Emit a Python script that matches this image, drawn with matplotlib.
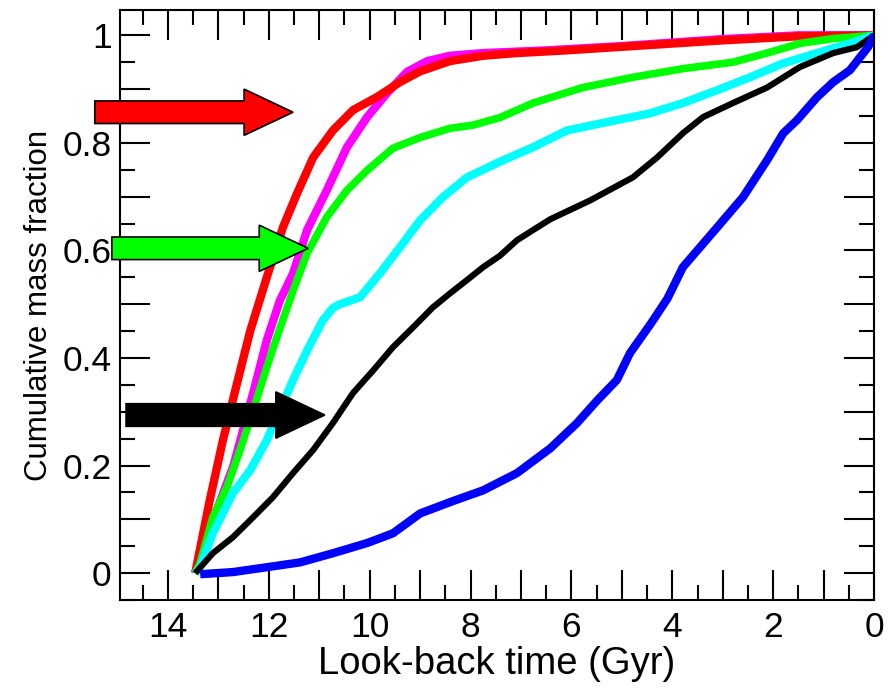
import matplotlib
matplotlib.use("Agg")
import matplotlib.pyplot as plt
from matplotlib.patches import FancyArrow
from matplotlib.ticker import MultipleLocator, FuncFormatter

plt.rcParams["font.family"] = ["Liberation Sans", "DejaVu Sans"]

# look-back time (Gyr) and cumulative mass fraction
red_t = [13.46, 13.17, 12.91, 12.63, 12.37, 12.04, 11.72, 11.44, 11.12, 10.73,
         10.33, 9.86, 9.40, 9.0, 8.41, 7.75, 7.08, 6.1, 5.10, 3.11, 1.53, 0.0]
red_f = [0.0, 0.136, 0.247, 0.353, 0.45, 0.55, 0.643, 0.706, 0.773, 0.823,
         0.861, 0.885, 0.913, 0.933, 0.952, 0.962, 0.967, 0.972, 0.978, 0.99, 0.998, 1.0]

magenta_t = [13.46, 13.1, 12.7, 12.31, 12.04, 11.78, 11.52, 11.24, 10.85, 10.45,
             10.05, 9.66, 9.26, 8.86, 8.41, 7.75, 6.5, 5.0, 3.0, 1.5, 0.0]
magenta_f = [0.0, 0.1, 0.2, 0.335, 0.433, 0.507, 0.557, 0.638, 0.712, 0.792,
             0.848, 0.892, 0.932, 0.952, 0.962, 0.967, 0.972, 0.98, 0.993, 1.0, 1.0]

green_t = [13.46, 13.36, 13.11, 12.83, 12.57, 12.31, 12.04, 11.78, 11.52, 11.24,
           10.85, 10.45, 10.05, 9.54, 9.0, 8.41, 7.95, 7.42, 6.76, 6.42,
           5.77, 4.78, 3.79, 2.80, 2.12, 1.47, 0.81, 0.0]
green_f = [0.0, 0.019, 0.104, 0.16, 0.229, 0.303, 0.383, 0.455, 0.525, 0.595,
           0.662, 0.712, 0.749, 0.79, 0.81, 0.827, 0.833, 0.847, 0.874, 0.884,
           0.903, 0.922, 0.938, 0.95, 0.967, 0.985, 0.994, 1.0]

cyan_t = [13.46, 13.36, 13.11, 12.71, 12.37, 12.04, 11.78, 11.52, 11.24, 10.93,
          10.73, 10.59, 10.19, 9.80, 9.40, 9.0, 8.55, 8.07, 7.75, 7.42,
          6.76, 6.09, 5.43, 4.44, 3.79, 3.11, 2.46, 1.80, 1.13, 0.48, 0.0]
cyan_f = [0.0, 0.011, 0.074, 0.149, 0.191, 0.247, 0.303, 0.359, 0.414, 0.47,
          0.493, 0.50, 0.513, 0.557, 0.606, 0.656, 0.699, 0.736, 0.75, 0.765,
          0.792, 0.823, 0.836, 0.855, 0.874, 0.898, 0.922, 0.948, 0.967, 0.985, 1.0]

black_t = [13.46, 13.11, 12.71, 12.31, 11.92, 11.52, 11.12, 10.73, 10.33, 9.93,
           9.54, 9.14, 8.75, 8.41, 8.07, 7.75, 7.42, 7.08, 6.76, 6.42,
           5.63, 4.78, 4.30, 3.79, 3.39, 2.80, 2.12, 1.47, 0.81, 0.34, 0.0]
black_f = [0.0, 0.037, 0.067, 0.104, 0.141, 0.186, 0.229, 0.279, 0.335, 0.377,
           0.42, 0.457, 0.494, 0.52, 0.545, 0.569, 0.59, 0.619, 0.638, 0.658,
           0.693, 0.736, 0.773, 0.818, 0.848, 0.874, 0.903, 0.941, 0.967, 0.978, 1.0]

blue_t = [13.36, 12.71, 12.04, 11.38, 10.73, 10.05, 9.54, 9.0, 8.35, 7.75,
          7.08, 6.42, 5.89, 5.49, 5.10, 4.84, 4.44, 4.10, 3.79, 3.11,
          2.60, 2.12, 1.80, 1.53, 1.13, 0.81, 0.48, 0.28, 0.12, 0.0]
blue_f = [-0.002, 0.002, 0.011, 0.02, 0.037, 0.056, 0.074, 0.111, 0.134, 0.154,
          0.186, 0.232, 0.279, 0.321, 0.359, 0.409, 0.462, 0.51, 0.569, 0.643,
          0.699, 0.768, 0.818, 0.842, 0.885, 0.913, 0.935, 0.959, 0.978, 1.0]

# arrows: (tail x, tip x, y, colour)
arrows = [
    (15.45, 11.52, 0.857, "#ff0000"),
    (15.11, 11.22, 0.604, "#00ff00"),
    (14.83, 10.89, 0.294, "black"),
]

fig = plt.figure(figsize=(8.91, 6.92), dpi=100)
ax = fig.add_axes([0.1347, 0.1329, 0.8463, 0.8526])

ax.plot(magenta_t, magenta_f, color="#ff00ff", lw=6, solid_capstyle="butt")
ax.plot(red_t, red_f, color="#ff0000", lw=6, solid_capstyle="butt")
ax.plot(green_t, green_f, color="#00ff00", lw=5.5, solid_capstyle="butt")
ax.plot(cyan_t, cyan_f, color="#00ffff", lw=6, solid_capstyle="butt")
ax.plot(black_t, black_f, color="black", lw=4.5, solid_capstyle="butt")
ax.plot(blue_t, blue_f, color="#0000ff", lw=6, solid_capstyle="butt")

for x0, x1, y, c in arrows:
    ax.add_patch(FancyArrow(x0, y, x1 - x0, 0, width=0.042, head_width=0.086,
                            head_length=0.97, length_includes_head=True,
                            facecolor=c, edgecolor="black", lw=1.2,
                            clip_on=False, zorder=5))

ax.set_xlim(14.95, 0)
ax.set_ylim(-0.05, 1.047)

ax.xaxis.set_major_locator(MultipleLocator(1))
ax.xaxis.set_minor_locator(MultipleLocator(0.5))
ax.yaxis.set_major_locator(MultipleLocator(0.1))
ax.yaxis.set_minor_locator(MultipleLocator(0.05))
ax.xaxis.set_major_formatter(FuncFormatter(
    lambda v, _: f"{int(round(v))}" if round(v) % 2 == 0 else ""))
ax.yaxis.set_major_formatter(FuncFormatter(
    lambda v, _: f"{round(v, 1):g}" if round(v * 10) % 2 == 0 and v > -0.01 else ""))

ax.tick_params(which="both", direction="in", top=True, right=True, width=1.5,
               labelsize=25.5)
ax.tick_params(which="major", length=21.5)
ax.tick_params(which="minor", length=10.8)
ax.tick_params(axis="x", pad=8)
ax.tick_params(axis="y", pad=6)
for s in ax.spines.values():
    s.set_linewidth(1.5)

ax.set_xlabel("Look-back time (Gyr)", fontsize=27.5, labelpad=1)
ax.set_ylabel("Cumulative mass fraction", fontsize=22.5, labelpad=6)

fig.savefig("out.png", dpi=100)
